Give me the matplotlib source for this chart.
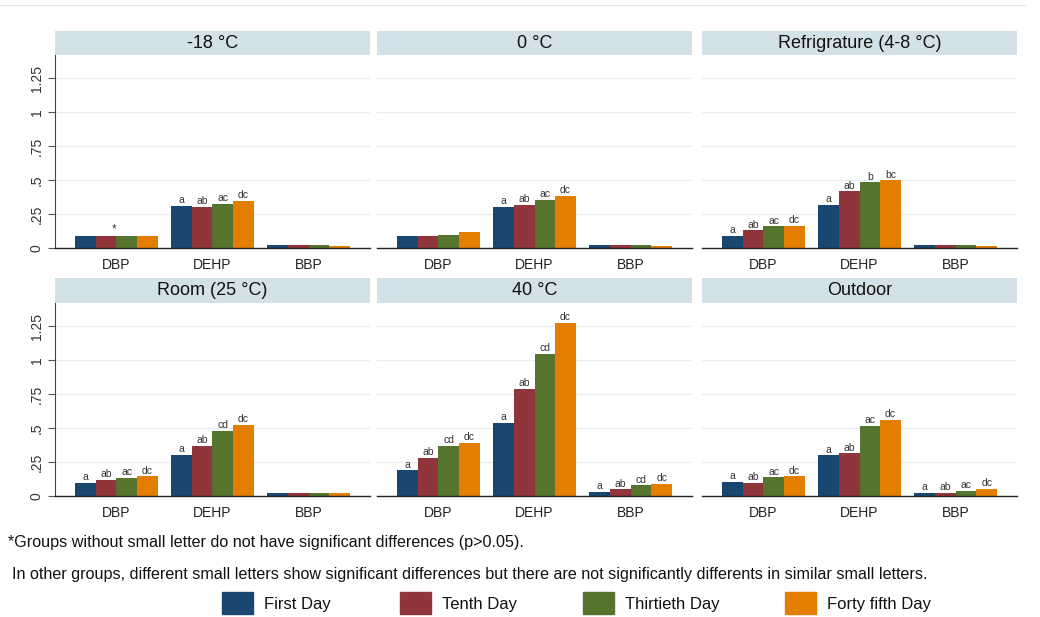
import matplotlib.pyplot as plt
import numpy as np

# compounds on the x axis, sampling days as the bar series
compounds = ["DBP", "DEHP", "BBP"]
days = ["First Day", "Tenth Day", "Thirtieth Day", "Forty fifth Day"]
day_colors = ["#1a476f", "#90353b", "#55752f", "#e37e00"]

panel_titles = ["-18 \u00b0C", "0 \u00b0C", "Refrigrature (4-8 \u00b0C)",
                "Room (25 \u00b0C)", "40 \u00b0C", "Outdoor"]

# rows: DBP, DEHP, BBP ; columns: day 1, 10, 30, 45
freezer = [[0.087, 0.087, 0.087, 0.087],
           [0.310, 0.300, 0.326, 0.348],
           [0.020, 0.020, 0.020, 0.012]]
zero_c = [[0.090, 0.090, 0.098, 0.115],
          [0.300, 0.316, 0.353, 0.385],
          [0.024, 0.024, 0.022, 0.015]]
fridge = [[0.090, 0.130, 0.159, 0.164],
          [0.316, 0.416, 0.482, 0.497],
          [0.024, 0.024, 0.024, 0.015]]
room = [[0.098, 0.120, 0.135, 0.144],
        [0.305, 0.371, 0.479, 0.523],
        [0.022, 0.022, 0.022, 0.022]]
hot = [[0.188, 0.281, 0.369, 0.391],
       [0.535, 0.789, 1.048, 1.275],
       [0.029, 0.049, 0.078, 0.086]]
outdoor = [[0.103, 0.095, 0.137, 0.144],
           [0.298, 0.313, 0.513, 0.557],
           [0.022, 0.022, 0.037, 0.051]]

# significance letters per compound (None = no letters)
freezer_letters = [None, ["a", "ab", "ac", "dc"], None]
zero_letters = [None, ["a", "ab", "ac", "dc"], None]
fridge_letters = [["a", "ab", "ac", "dc"], ["a", "ab", "b", "bc"], None]
room_letters = [["a", "ab", "ac", "dc"], ["a", "ab", "cd", "dc"], None]
hot_letters = [["a", "ab", "cd", "dc"], ["a", "ab", "cd", "dc"], ["a", "ab", "cd", "dc"]]
outdoor_letters = [["a", "ab", "ac", "dc"], ["a", "ab", "ac", "dc"], ["a", "ab", "ac", "dc"]]

yticks = [0, 0.25, 0.5, 0.75, 1, 1.25]
ytick_labels = ["0", ".25", ".5", ".75", "1", "1.25"]

panels = [freezer, zero_c, fridge, room, hot, outdoor]
letters = [freezer_letters, zero_letters, fridge_letters,
           room_letters, hot_letters, outdoor_letters]

plt.rcParams["font.family"] = ["Liberation Sans", "DejaVu Sans"]

W, H = 1040, 617
fig = plt.figure(figsize=(W / 100, H / 100), dpi=100)


def box(x0, y0, x1, y1):
    # pixel box (top-left origin) -> figure fraction rect
    return [x0 / W, 1 - y1 / H, (x1 - x0) / W, (y1 - y0) / H]


col_x = [55, 377, 702]
col_w = 315
row_strip = [(31, 55), (278, 303)]
row_zero = [248, 496]

bar_w = 0.216
offsets = (np.arange(4) - 1.5) * bar_w
xpos = np.arange(len(compounds))

for i, (vals, labs) in enumerate(zip(panels, letters)):
    r, c = divmod(i, 3)
    x0 = col_x[c]
    s0, s1 = row_strip[r]

    strip = fig.add_axes(box(x0, s0, x0 + col_w, s1))
    strip.set_facecolor("#d3e1e8")
    strip.set_xticks([])
    strip.set_yticks([])
    for sp in strip.spines.values():
        sp.set_visible(False)
    strip.text(0.5, 0.5, panel_titles[i], ha="center", va="center",
               fontsize=13, color="#111111", transform=strip.transAxes)

    ax = fig.add_axes(box(x0, s1, x0 + col_w, row_zero[r]))
    vals = np.array(vals)
    for d in range(4):
        ax.bar(xpos + offsets[d], vals[:, d], width=bar_w,
               color=day_colors[d], linewidth=0, zorder=2)
    for g in range(3):
        if labs[g] is None:
            continue
        for d in range(4):
            ax.text(xpos[g] + offsets[d], vals[g, d] + 0.006, labs[g][d],
                    ha="center", va="bottom", fontsize=7.5, color="#333333",
                    zorder=3)
    if i == 0:
        # marker for the group without significant differences
        ax.text(xpos[0] - 0.03, vals[0, 1] + 0.008, "*", ha="center",
                va="bottom", fontsize=8.5, color="#333333")

    ax.set_xlim(-0.64, 2.64)
    ax.set_ylim(0, 1.42)
    ax.set_yticks(yticks)
    ax.grid(axis="y", color="#e6eef1", linewidth=0.9, zorder=0)
    ax.set_axisbelow(True)
    ax.set_xticks(xpos)
    ax.set_xticklabels(compounds, fontsize=10, color="#222222")
    ax.tick_params(axis="x", length=0, pad=7)
    for name in ("top", "right"):
        ax.spines[name].set_visible(False)
    ax.spines["bottom"].set_color("#222222")
    ax.spines["bottom"].set_linewidth(1.0)
    if c == 0:
        ax.set_yticklabels(ytick_labels, rotation=90, va="center",
                           fontsize=10, color="#333333")
        ax.tick_params(axis="y", length=5, width=0.8, color="#555555", pad=3)
        ax.spines["left"].set_color("#444444")
        ax.spines["left"].set_linewidth(0.8)
    else:
        ax.tick_params(axis="y", length=0, labelleft=False)
        ax.spines["left"].set_visible(False)

# faint rule along the top edge
fig.add_artist(plt.Line2D([0, 1025 / W], [1 - 5 / H, 1 - 5 / H],
                          color="#e4e4e4", linewidth=0.8))

narrow = ["Liberation Sans Narrow", "Liberation Sans", "DejaVu Sans"]
fig.text(8 / W, 1 - 543 / H,
         "*Groups without small letter do not have significant differences (p>0.05).",
         ha="left", va="center", fontsize=11.6, family=narrow, color="#111111")
fig.text(12 / W, 1 - 575 / H,
         "In other groups, different small letters show significant differences "
         "but there are not significantly differents in similar small letters.",
         ha="left", va="center", fontsize=11.6, family=narrow, color="#111111")

# legend along the bottom
swatch_x = [222, 400, 583, 785]
for sx, name, col in zip(swatch_x, days, day_colors):
    fig.add_artist(plt.Rectangle((sx / W, 1 - 614 / H), 31 / W, 22 / H,
                                 transform=fig.transFigure, color=col))
    fig.text((sx + 42) / W, 1 - 604 / H, name, ha="left", va="center",
             fontsize=12, family=narrow, color="#111111")

fig.savefig("out.png", dpi=100)
